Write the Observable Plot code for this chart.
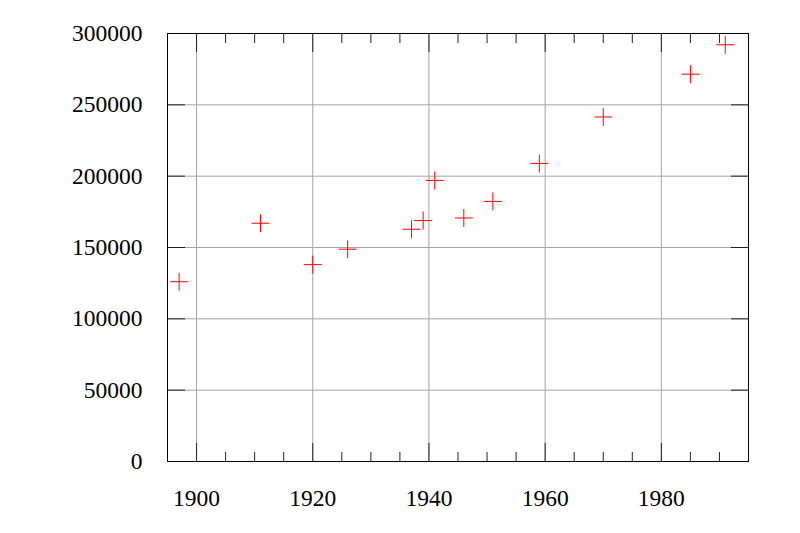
<!DOCTYPE html>
<html><head><meta charset="utf-8">
<script src="https://cdn.jsdelivr.net/npm/d3@7"></script>
<script src="https://cdn.jsdelivr.net/npm/@observablehq/plot@0.6"></script>
<style>
body{margin:0;background:#fff}
svg, svg text { font-family: "Liberation Serif", "Times New Roman", serif !important; }
</style>
</head><body><div id="chart"></div>
<script>
const years = [1897, 1911, 1920, 1926, 1937, 1939, 1941, 1946, 1951, 1959, 1970, 1985, 1991];
const population = [126000, 167000, 138000, 148800, 162800, 168900, 197000, 170700, 182300, 208900, 241500, 271500, 292100];
const xMajorTicks = [1900, 1920, 1940, 1960, 1980];
const xMinorTicks = [1905, 1910, 1915, 1925, 1930, 1935, 1945, 1950, 1955, 1965, 1970, 1975, 1985, 1990];
const yTicks = [0, 50000, 100000, 150000, 200000, 250000, 300000];

const data = years.map((y, i) => ({year: y, value: population[i]}));

const crossSymbol = {
  draw(context, size) {
    const r = Math.sqrt(size / Math.PI);
    context.moveTo(-r, 0); context.lineTo(r, 0);
    context.moveTo(0, -r); context.lineTo(0, r);
  }
};

const tickColor = "#222";
const gridColor = "#a3a3a3";
const fs = 23.5;
const ff = "Liberation Serif";

const chart = Plot.plot({
  width: 800,
  height: 533,
  marginLeft: 167,
  marginRight: 52,
  marginTop: 33,
  marginBottom: 72,
  style: {background: "#fff", color: "#000", fontSize: fs + "px"},
  x: {domain: [1895, 1995], axis: null},
  y: {domain: [0, 300000], axis: null},
  marks: [
    Plot.gridX(xMajorTicks, {stroke: gridColor, strokeOpacity: 1, strokeWidth: 1}),
    Plot.gridY(yTicks, {stroke: gridColor, strokeOpacity: 1, strokeWidth: 1}),
    Plot.axisX(xMajorTicks, {anchor: "bottom", tickSize: 18, dy: -18, fill: "none", stroke: tickColor, label: null}),
    Plot.axisX(xMajorTicks, {anchor: "top", tickSize: 18, dy: 18, fill: "none", stroke: tickColor, label: null}),
    Plot.axisX(xMinorTicks, {anchor: "bottom", tickSize: 9, dy: -9, fill: "none", stroke: tickColor, label: null}),
    Plot.axisX(xMinorTicks, {anchor: "top", tickSize: 9, dy: 9, fill: "none", stroke: tickColor, label: null}),
    Plot.axisY(yTicks, {anchor: "left", tickSize: 18, dx: 18, fill: "none", stroke: tickColor, label: null}),
    Plot.axisY(yTicks, {anchor: "right", tickSize: 18, dx: -18, fill: "none", stroke: tickColor, label: null}),
    Plot.axisX(xMajorTicks, {anchor: "bottom", tickSize: 0, tickPadding: 28, fontSize: fs, fontFamily: ff, fill: "#000", label: null, tickFormat: d => String(d)}),
    Plot.axisY(yTicks, {anchor: "left", tickSize: 0, tickPadding: 25, fontSize: fs, fontFamily: ff, fill: "#000", label: null, tickFormat: d => String(d)}),
    Plot.frame({stroke: "#000", strokeWidth: 1}),
    Plot.dot(data, {x: "year", y: "value", symbol: crossSymbol, r: 9, stroke: "red", fill: "none", strokeWidth: 1})
  ]
});
document.getElementById("chart").appendChild(chart);
</script>
</body></html>
